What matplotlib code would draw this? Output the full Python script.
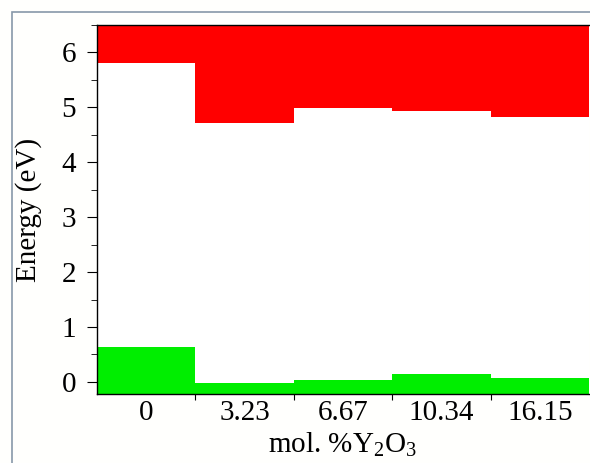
import numpy as np
import matplotlib.pyplot as plt
from matplotlib.patches import Rectangle
from matplotlib.ticker import FixedLocator, MultipleLocator

plt.rcParams['font.family'] = ['Liberation Serif', 'DejaVu Serif']
plt.rcParams['mathtext.fontset'] = 'custom'
plt.rcParams['mathtext.rm'] = 'Liberation Serif'

# data
conc = ['0', '3.23', '6.67', '10.34', '16.15']
cb_min = [5.80, 4.71, 4.98, 4.94, 4.82]   # red: conduction band
vb_max = [0.64, -0.02, 0.04, 0.15, 0.08]  # green: valence band

ytop = 6.5
ybot = -0.22

fig = plt.figure(figsize=(5.9, 4.63), dpi=100)
fig.patch.set_facecolor('#fffffd')
fig.patches.append(Rectangle((12/590, -0.1), 1.2, 1 - 12/463 + 0.1,
                             transform=fig.transFigure, fill=False,
                             edgecolor='#8898aa', lw=1.2))

ax = fig.add_axes([97/590, 1 - 394/463, 492/590, (394 - 25)/463])
x = np.arange(len(conc))
ax.bar(x, [ytop - v for v in cb_min], bottom=cb_min, width=1.0, color='#ff0000')
ax.bar(x, [v - ybot for v in vb_max], bottom=ybot, width=1.0, color='#00ee00')

ax.set_xlim(-0.5, len(conc) - 0.5)
ax.set_ylim(ybot, ytop)

ax.xaxis.set_major_locator(FixedLocator(np.arange(0.5, len(conc) - 0.5, 1.0)))
ax.xaxis.set_major_formatter(plt.NullFormatter())
ax.xaxis.set_minor_locator(FixedLocator(x))
ax.set_xticklabels(conc, minor=True)
ax.tick_params(axis='x', which='minor', length=0, labelsize=21, pad=4)
ax.tick_params(axis='x', which='major', length=4, direction='out')

ax.yaxis.set_major_locator(MultipleLocator(1))
ax.yaxis.set_minor_locator(MultipleLocator(0.5))
ax.tick_params(axis='y', which='major', length=7, labelsize=21, direction='out', pad=8)
ax.tick_params(axis='y', which='minor', length=4, direction='out')

for s in ['left', 'bottom', 'top']:
    ax.spines[s].set_linewidth(1.0)
ax.spines['right'].set_visible(False)

ax.set_ylabel('Energy (eV)', fontsize=21, labelpad=14)
ax.set_xlabel('mol. %Y$_2$O$_3$', fontsize=21, labelpad=3)

fig.savefig('out.png', dpi=100, facecolor=fig.get_facecolor())
